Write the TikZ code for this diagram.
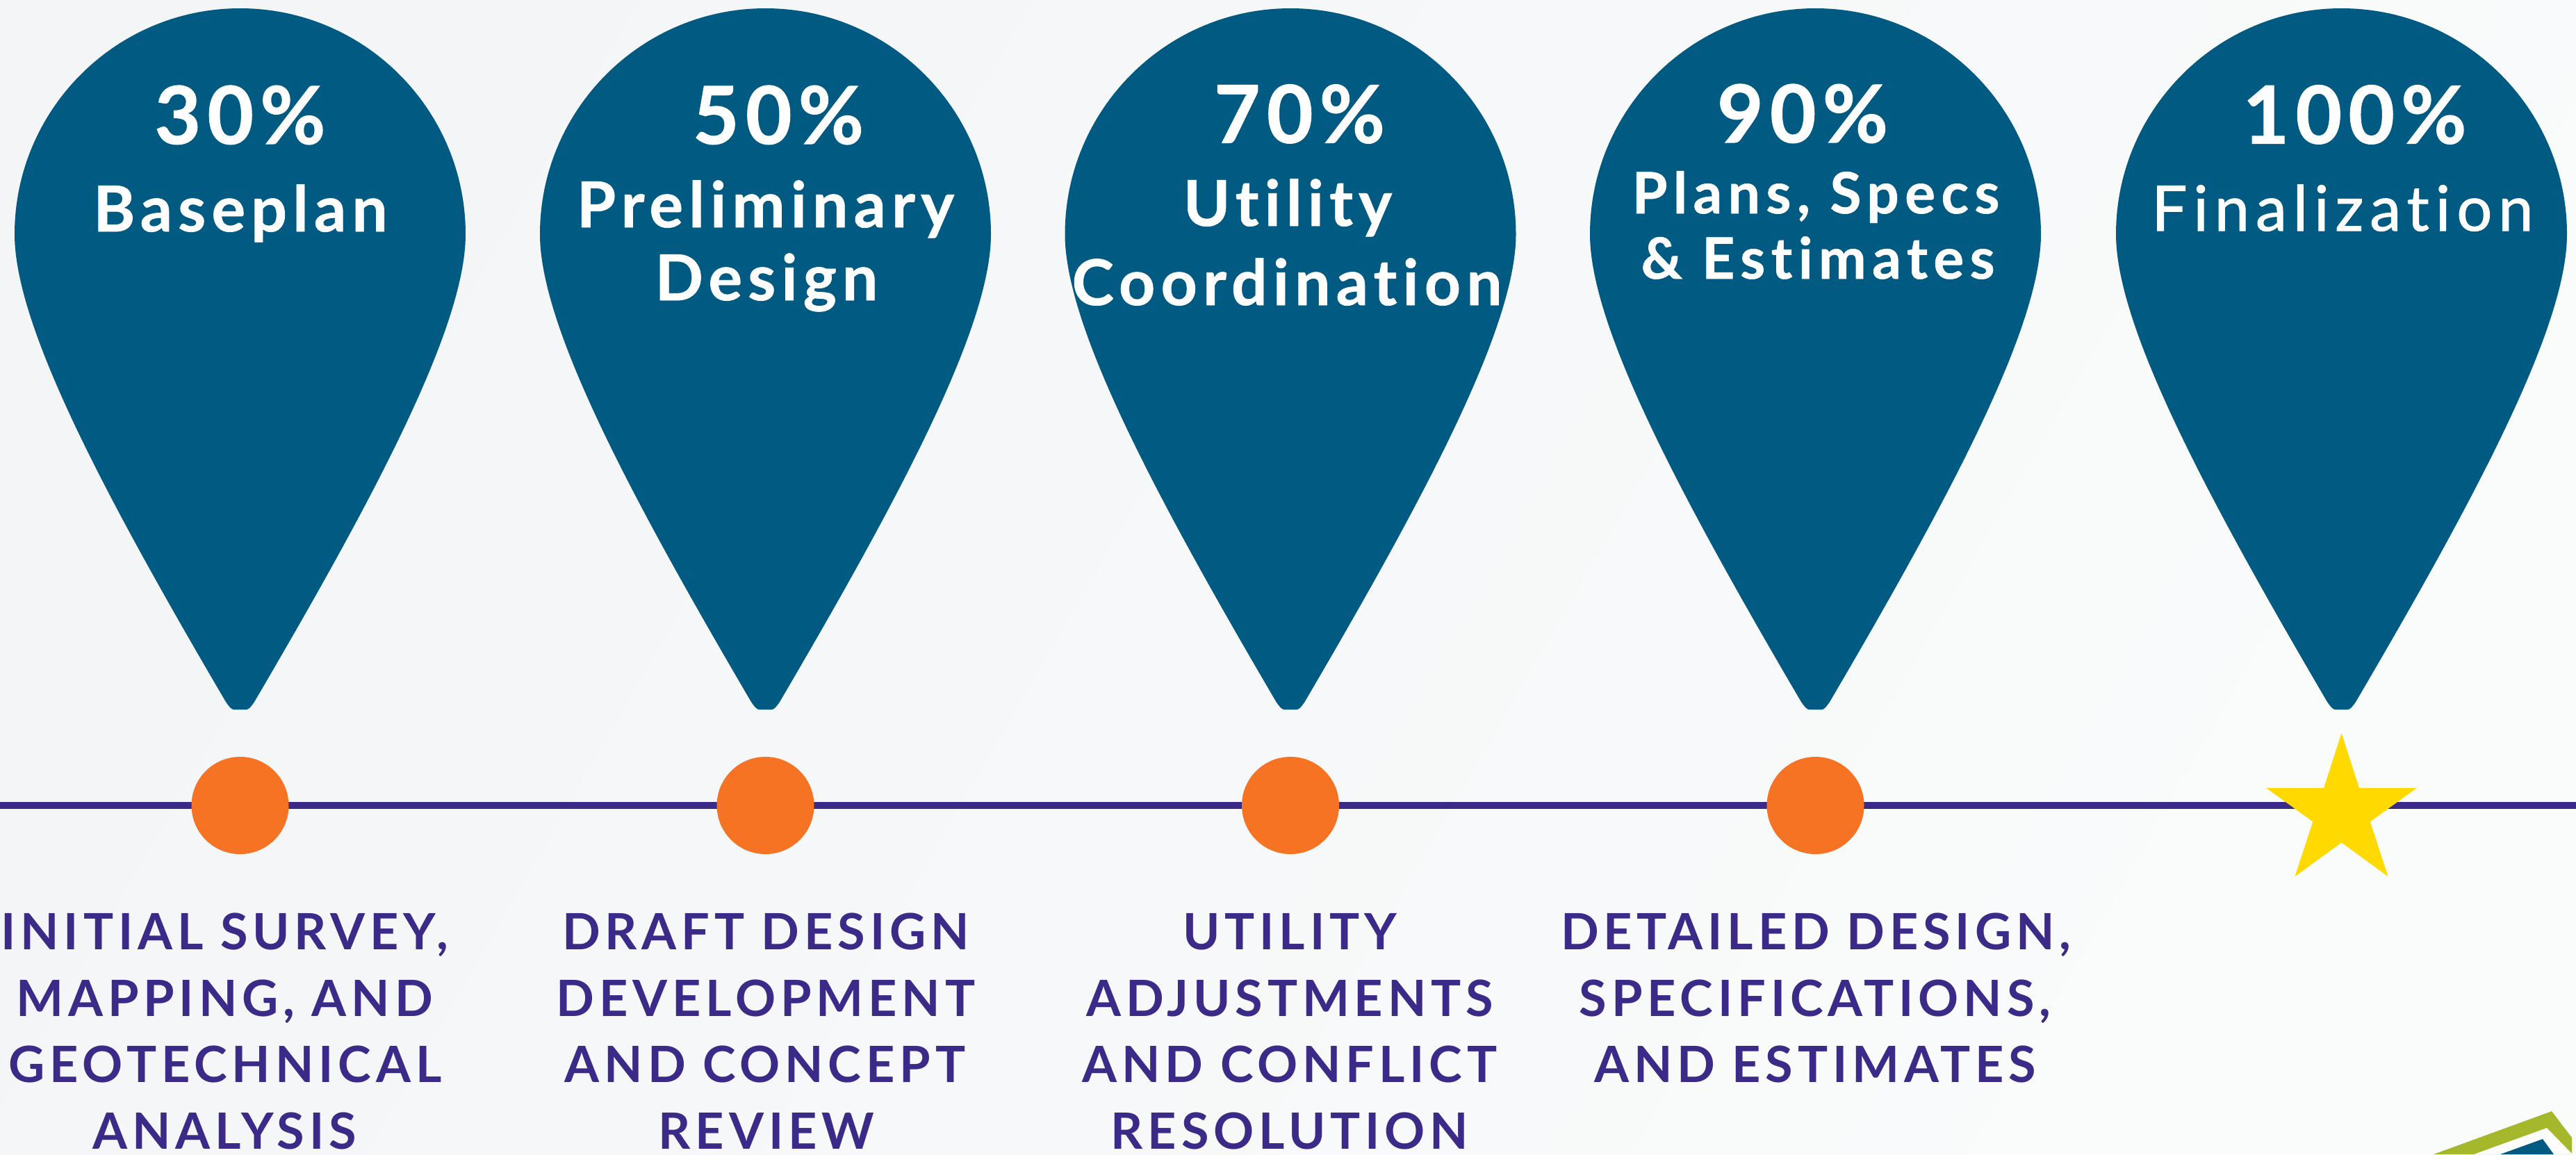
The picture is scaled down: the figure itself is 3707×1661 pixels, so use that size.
\documentclass[tikz,border=0pt]{standalone}
\usepackage{fontspec}
\usetikzlibrary{shapes.geometric}
\setmainfont{Lato}
\newfontfamily\latoA[LetterSpace=8,Ligatures=NoCommon,BoldFeatures={FakeBold=1}]{Lato}
\newfontfamily\latoB[LetterSpace=9,Ligatures=NoCommon,BoldFeatures={FakeBold=0.8}]{Lato}
\newfontfamily\latoS[LetterSpace=10.3,Ligatures=NoCommon,BoldFeatures={FakeBold=0.8}]{Lato}
\newfontfamily\latoF[LetterSpace=10,Ligatures=NoCommon,FakeBold=1.2]{Lato}
\newfontfamily\latoC[LetterSpace=9.5,Ligatures=NoCommon]{Lato}
\definecolor{pinblue}{HTML}{005A82}
\definecolor{linepurple}{HTML}{3B2A87}
\definecolor{dotorange}{HTML}{F57322}
\definecolor{staryellow}{HTML}{FFD900}
\definecolor{logogreen}{HTML}{A5B72B}
\definecolor{bgA}{HTML}{F3F5F7}
\definecolor{bgB}{HTML}{FAFBFB}
\newcommand{\pxfont}[1]{\fontsize{\dimexpr #1pt/2\relax}{\dimexpr #1pt/2\relax}\selectfont}
\tikzset{
  x=0.5pt,y=-0.5pt,
  pinshape/.style={fill=pinblue},
  dotnode/.style={circle,fill=dotorange,inner sep=0pt,minimum size=70pt},
  pct/.style={anchor=base,inner sep=0pt,text=white,font=\latoA\bfseries\pxfont{115}},
  stage/.style={anchor=base,inner sep=0pt,text=white,font=\latoB\bfseries\pxfont{91}},
  stagesmall/.style={anchor=base,inner sep=0pt,text=white,font=\latoS\bfseries\pxfont{82}},
  stagelight/.style={anchor=base,inner sep=0pt,text=white,font=\latoF\pxfont{90}},
  desc/.style={anchor=base,inner sep=0pt,text=linepurple,font=\latoC\bfseries\pxfont{72}},
}
\newcommand{\pinat}[1]{%
  \path[pinshape,shift={(#1,0)}] (-324.5,337)
    .. controls (-324.5,158) and (-179,12) .. (0,12)
    .. controls (179,12) and (324.5,158) .. (324.5,337)
    .. controls (324.5,470) and (193.5,715) .. (20.5,1010)
    .. controls (15,1018) and (12,1021) .. (9,1021)
    -- (-9,1021)
    .. controls (-12,1021) and (-15,1018) .. (-20.5,1010)
    .. controls (-193.5,715) and (-324.5,470) .. (-324.5,337) -- cycle;}
\begin{document}
\begin{tikzpicture}
\useasboundingbox (0,0) rectangle (3707,1661);
\shade[left color=bgA,right color=bgB,shading angle=60,draw=none] (0,0) rectangle (3707,1661);
% timeline
\coordinate (lstart) at (0,1159);
\coordinate (lend) at (3707,1159);
\draw[linepurple,line width=5pt] (lstart) -- (lend);
% pins
\pinat{345.5}\pinat{1101.5}\pinat{1857}\pinat{2612.5}\pinat{3369.5}
% dots
\node[dotnode] (d1) at (345.5,1159) {};
\node[dotnode] (d2) at (1101.5,1159) {};
\node[dotnode] (d3) at (1857,1159) {};
\node[dotnode] (d4) at (2612.5,1159) {};
\node[star,star points=5,star point ratio=2.63,fill=staryellow,draw=none,inner sep=0pt,minimum size=114pt] (st) at (3369.5,1169) {};
% percent labels
\node[pct] (p1) at (345.5,207) {30\%};
\node[pct] (p2) at (1120,207) {50\%};
\node[pct] (p3) at (1870,205.5) {70\%};
\node[pct] (p4) at (2594,205) {90\%};
\node[pct] (p5) at (3388.5,206.5) {100\%};
% stage labels
\node[stage] (s1) at (346,333) {Baseplan};
\node[stage] (s2a) at (1101.5,327) {Preliminary};
\node[stage] (s2b) at (1103,432) {Design};
\node[stage] (s3a) at (1853,325) {Utility};
\node[stage] (s3b) at (1852,439) {Coordination};
\node[stagesmall] (s4a) at (2613,307) {Plans, Specs};
\node[stagesmall] (s4b) at (2616,401) {\& Estimates};
\node[stagelight] (s5) at (3371,332) {Finalization};
% descriptions
\node[desc] (t1a) at (323,1366) {INITIAL SURVEY,};
\node[desc] (t1b) at (323,1462) {MAPPING, AND};
\node[desc] (t1c) at (324,1557) {GEOTECHNICAL};
\node[desc] (t1d) at (323,1653) {ANALYSIS};
\node[desc] (t2a) at (1102,1366) {DRAFT DESIGN};
\node[desc] (t2b) at (1102,1462) {DEVELOPMENT};
\node[desc] (t2c) at (1101,1557) {AND CONCEPT};
\node[desc] (t2d) at (1103,1653) {REVIEW};
\node[desc] (t3a) at (1856,1366) {UTILITY};
\node[desc] (t3b) at (1856,1462) {ADJUSTMENTS};
\node[desc] (t3c) at (1856,1557) {AND CONFLICT};
\node[desc] (t3d) at (1856,1653) {RESOLUTION};
\node[desc] (t4a) at (2613,1366) {DETAILED DESIGN,};
\node[desc] (t4b) at (2612,1462) {SPECIFICATIONS,};
\node[desc] (t4c) at (2612,1557) {AND ESTIMATES};
% logo corner
\fill[logogreen] (3502,1661) -- (3672,1599) -- (3701,1637) -- (3701,1661) -- cycle;
\fill[white!60!bgB] (3560,1661) -- (3665,1623) -- (3701,1660) -- (3701,1661) -- cycle;
\fill[pinblue] (3598,1661) -- (3659,1639) -- (3675,1661) -- cycle;
\end{tikzpicture}
\end{document}
